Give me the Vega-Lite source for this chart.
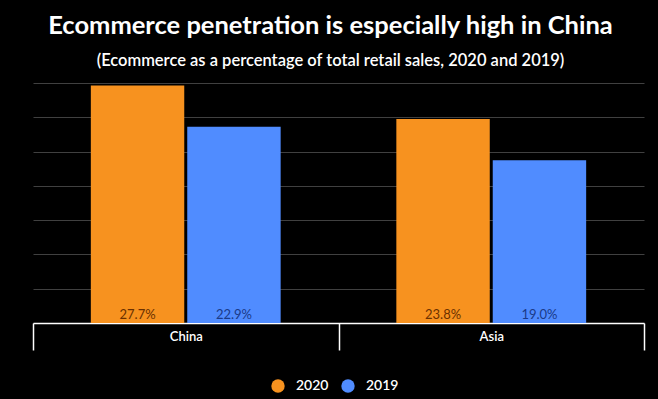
{
  "$schema": "https://vega.github.io/schema/vega-lite/v6.json",
  "width": 611,
  "height": 240,
  "autosize": {"type": "none"},
  "padding": {"left": 33, "top": 83, "right": 14, "bottom": 76},
  "background": "#000000",
  "config": {"view": {"stroke": null}, "font": "Lato"},
  "title": {
    "text": "Ecommerce penetration is especially high in China",
    "subtitle": "(Ecommerce as a percentage of total retail sales, 2020 and 2019)",
    "anchor": "middle",
    "dx": -8,
    "offset": 14,
    "font": "Lato",
    "fontSize": 25.5,
    "fontWeight": "bold",
    "color": "#ffffff",
    "subtitleFont": "Lato",
    "subtitleFontSize": 16.5,
    "subtitleFontWeight": 600,
    "subtitleColor": "#ffffff",
    "subtitlePadding": 13
  },
  "data": {
    "values": [
      {"region": "China", "year": "2020", "value": 27.7, "label": "27.7%"},
      {"region": "China", "year": "2019", "value": 22.9, "label": "22.9%"},
      {"region": "Asia", "year": "2020", "value": 23.8, "label": "23.8%"},
      {"region": "Asia", "year": "2019", "value": 19.0, "label": "19.0%"}
    ]
  },
  "encoding": {
    "x": {
      "field": "region",
      "type": "nominal",
      "sort": ["China", "Asia"],
      "title": null,
      "scale": {"paddingInner": 0, "paddingOuter": 0},
      "axis": {
        "labelAngle": 0,
        "labelColor": "#ffffff",
        "labelFont": "Lato",
        "labelFontSize": 13,
        "labelFontWeight": 600,
        "labelPadding": -20,
        "tickBand": "extent",
        "tickSize": 27,
        "tickColor": "#ffffff",
        "tickWidth": 1.5,
        "domainColor": "#ffffff",
        "domainWidth": 1.5,
        "grid": false
      }
    },
    "xOffset": {
      "field": "year",
      "type": "nominal",
      "sort": ["2020", "2019"],
      "scale": {"paddingInner": 0.031, "paddingOuter": 0.6}
    }
  },
  "layer": [
    {
      "mark": {"type": "bar"},
      "encoding": {
        "y": {
          "field": "value",
          "type": "quantitative",
          "title": null,
          "scale": {"domain": [0, 28], "nice": false, "zero": true},
          "axis": {
            "values": [0, 4, 8, 12, 16, 20, 24, 28],
            "tickCount": 20,
            "labels": false,
            "labelOverlap": false,
            "ticks": false,
            "domain": false,
            "grid": true,
            "gridColor": "#404040",
            "gridWidth": 1
          }
        },
        "color": {
          "field": "year",
          "type": "nominal",
          "scale": {"domain": ["2020", "2019"], "range": ["#F7921F", "#508CFF"]},
          "legend": {
            "title": null,
            "orient": "none",
            "legendX": 238,
            "legendY": 296,
            "direction": "horizontal",
            "symbolType": "circle",
            "symbolSize": 180,
            "symbolOpacity": 1,
            "symbolStrokeWidth": 0,
            "labelColor": "#ffffff",
            "labelFont": "Lato",
            "labelFontSize": 14,
            "labelFontWeight": 600,
            "labelOffset": 11,
            "columnPadding": 12
          }
        }
      }
    },
    {
      "mark": {"type": "text", "baseline": "bottom", "dy": -1, "font": "Lato", "fontSize": 13},
      "encoding": {
        "y": {"datum": 0},
        "text": {"field": "label"},
        "color": {
          "condition": {"test": "datum.year == '2020'", "value": "#6a3000"},
          "value": "#1a3a88"
        }
      }
    }
  ]
}
